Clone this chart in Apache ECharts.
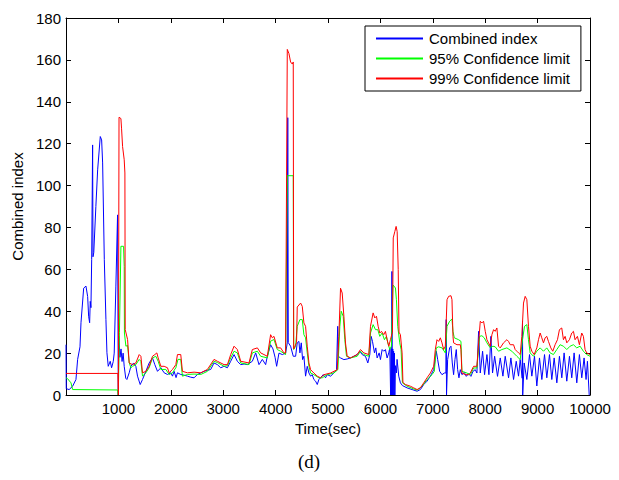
<!DOCTYPE html>
<html>
<head>
<meta charset="utf-8">
<script src="https://cdn.jsdelivr.net/npm/echarts@6/dist/echarts.min.js"></script>
<style>
html,body{margin:0;padding:0;background:#fff;}
#chart{width:619px;height:480px;}
</style>
</head>
<body>
<div id="chart"></div>
<script>
// Tick values
const xTicks = [0,1000,2000,3000,4000,5000,6000,7000,8000,9000,10000];
const yTicks = [0,20,40,60,80,100,120,140,160,180];
const seriesNames = ['Combined index','95% Confidence limit','99% Confidence limit'];

// Combined index (blue): time (sec) and value
const blueT = [0,5,60,127,190,222,267,286,337,381,413,432,451,463,476,490,508,515,530,570,604,654,680,699,731,762,781,806,844,870,902,920,952,984,998,1008,1030,1050,1070,1090,1111,1140,1162,1206,1238,1290,1333,1365,1416,1460,1524,1587,1651,1695,1746,1810,1873,1937,2000,2032,2064,2100,2127,2190,2250,2318,2380,2444,2508,2570,2635,2700,2762,2825,2889,2953,3016,3080,3143,3207,3270,3334,3400,3461,3556,3620,3683,3747,3810,3842,3905,3950,3990,4020,4064,4128,4191,4223,4232,4242,4286,4337,4382,4413,4445,4464,4490,4515,4540,4572,4604,4636,4668,4699,4731,4763,4795,4826,4858,4909,4953,4985,5049,5112,5163,5185,5195,5239,5303,5366,5430,5493,5557,5607,5652,5715,5760,5798,5823,5849,5887,5912,5938,5976,6001,6033,6064,6096,6128,6160,6179,6195,6205,6212,6220,6228,6236,6244,6252,6260,6268,6276,6287,6306,6318,6350,6382,6420,6509,6604,6700,6763,6827,6890,6954,7017,7067,7093,7131,7175,7220,7250,7256,7262,7283,7321,7347,7372,7397,7423,7448,7474,7499,7525,7556,7601,7639,7683,7728,7766,7810,7842,7874,7906,7950,7988,8033,8071,8109,8140,8180,8235,8287,8338,8382,8446,8490,8541,8592,8636,8668,8706,8712,8716,8744,8795,8846,8890,8941,8985,9036,9081,9132,9176,9227,9271,9316,9367,9417,9462,9506,9557,9608,9652,9697,9748,9798,9843,9887,9925,9951,9985];
const blueV = [24,3,2.6,4.2,7.4,17,23,34.5,51,52,47,37.6,34.5,44.7,41.7,64.6,119.4,66,68,90,107.5,123.4,121.8,110.8,64.6,36,20.2,13.7,16.1,13,16,20,52,86,0,28,18,22,16,20,13.7,8,7.4,10.6,13.7,15.3,13.7,9,5,7.4,11.3,15.3,17.7,14.5,11.3,13,10.6,9.8,10.6,9,11.3,8.3,10.6,9.8,9.5,9,8.5,8.2,9.8,10.5,11.3,11.8,12.2,15.3,14.5,13,13.7,13,16.1,19.3,16.1,14.5,14.8,14.5,16.1,20.1,14.5,17,14.5,18.5,24,22,18,13.7,20,19.3,20,24.9,132.4,25,23.3,18.5,18.5,24.9,25.6,20.1,24.9,16.9,18.5,9,13.7,10.5,9,9.7,7.4,6.6,5,7.4,8.2,9.7,8.2,9.7,9,10.5,12.1,32.8,18.5,17.7,16.9,17.2,17.7,18.5,19.3,20.9,19.3,18.5,15.3,19.3,28,25.6,20.1,22.5,17.7,20.1,16.9,21.7,20.9,21.7,17.7,20.1,22.5,0,22,0,59,0,22,0,21,0,20,0,14,10.5,17,9,5.8,4.5,3.4,2.6,1.8,2.6,5,6.6,9,12.1,20.9,16.9,11.3,9.7,10.5,10.5,36,0,16.9,22.5,23.3,15.3,9.7,16.9,21.7,12.1,8.2,12.1,9.7,10.8,8.9,10.2,8.9,11.3,12.1,10.5,30.4,10.5,20.9,9.7,19.3,9.7,28,10.5,18.5,8.9,17.7,9,18.5,8.2,17.7,7.4,16.1,9,16.9,8,35.2,0,15.3,7.4,19.3,9,18.5,4.3,17.7,7.4,19.3,8.2,19.3,7.4,17.7,5.8,18.5,8.2,20.1,6.6,18.5,8.2,20.1,5.8,19.3,8.2,17.7,7.4,16.1,0];

// 95% Confidence limit (green)
const greenT = [0,30,95,127,985,998,1020,1048,1098,1111,1115,1143,1175,1206,1238,1270,1333,1397,1429,1460,1524,1587,1651,1714,1759,1810,1905,1968,2032,2096,2137,2190,2222,2318,2444,2572,2699,2825,2889,3016,3080,3143,3207,3270,3334,3492,3556,3652,3715,3842,3905,3969,4032,4096,4191,4223,4337,4345,4382,4413,4464,4509,4540,4572,4604,4636,4668,4731,4826,4890,4985,5112,5188,5226,5252,5290,5321,5353,5430,5557,5620,5684,5779,5811,5861,5906,5950,5988,6033,6077,6115,6141,6179,6210,6240,6287,6306,6331,6369,6395,6420,6509,6636,6700,6795,6890,6985,7029,7067,7112,7175,7239,7271,7321,7366,7385,7410,7493,7537,7556,7651,7715,7779,7842,7893,7937,7982,8033,8096,8147,8191,8255,8318,8414,8509,8604,8668,8712,8750,8795,8826,8858,8922,8985,9049,9112,9175,9239,9302,9366,9429,9493,9557,9620,9684,9747,9811,9874,9937,10000];
const greenV = [8.2,7.8,5.8,2.6,2.4,0,30,71,71,61.4,29.6,23.3,23.7,15.5,13,13.7,14.5,17,16.1,9,10.6,13,17.7,18.5,16.1,12.2,12.2,9.8,10.6,13,17,17,9,9.8,10,9.8,11.3,16.1,15.5,13.7,14,17.7,20.9,20.1,15.3,14.5,20.1,20.9,18.5,17.7,25.7,26.5,21.7,20.9,19.3,104.7,104.7,21.7,23.3,32.8,36,36,28.8,27.3,20.1,13.7,10.5,9.7,8.2,8.2,9.7,10.5,12.1,32.8,40,37.6,26.4,18.5,17.7,18.5,20.9,19.3,18.5,29.6,33.6,31.2,31.2,28,29.6,26.4,28,24.9,21.7,23.3,52.5,51.1,45.5,32.8,24.9,21.7,5.8,4.2,2.9,2.3,4.2,7.4,9.7,11.3,22.5,23,22.5,20.1,32.8,35.2,36.3,30.4,27.3,26.4,25.6,11.3,10.5,9.7,12.9,12.9,28,28.3,27.3,24.9,22.5,23.3,23,20.9,21.7,22.5,20.9,18.5,16.9,26.4,32.8,33.6,26.4,20.1,18.5,20.9,22.5,20.9,22.5,20.1,19.3,21.7,24,23.3,21.7,23.3,24,22.5,23.3,20.9,19.3,18.5];

// 99% Confidence limit (red)
const redT = [0,990,1000,1012,1048,1060,1080,1111,1124,1130,1143,1175,1206,1270,1333,1397,1429,1460,1524,1587,1651,1695,1734,1759,1810,1873,1937,1968,2032,2096,2127,2190,2222,2318,2444,2572,2699,2825,2889,3016,3080,3143,3207,3270,3334,3492,3556,3652,3715,3778,3842,3905,3937,3969,4032,4096,4159,4191,4223,4255,4286,4318,4337,4345,4400,4413,4477,4509,4540,4572,4604,4636,4668,4731,4795,4858,4922,5049,5176,5207,5239,5271,5303,5334,5366,5430,5493,5557,5620,5684,5779,5811,5861,5893,5925,5957,5988,6020,6064,6096,6128,6160,6191,6230,6245,6275,6300,6320,6340,6355,6382,6414,6430,6477,6572,6636,6700,6763,6827,6890,6954,7017,7048,7080,7112,7144,7175,7207,7239,7271,7302,7347,7366,7385,7397,7461,7525,7537,7556,7620,7683,7715,7779,7842,7874,7906,7937,7969,8001,8033,8096,8128,8160,8191,8223,8255,8287,8350,8414,8445,8477,8541,8572,8604,8636,8668,8699,8731,8763,8795,8826,8858,8890,8934,8985,9017,9049,9080,9112,9144,9175,9207,9252,9290,9334,9379,9417,9461,9493,9525,9557,9607,9652,9684,9715,9760,9798,9842,9874,9906,9937,10000];
const redV = [10.3,10.3,0,132.6,132,127.4,118.6,112.3,106,31.2,31.2,26.5,15.3,14.5,15.3,19.3,18.5,10.6,11.3,13.7,18.5,19.3,20.1,17.7,13.7,13.7,13,10.6,12.2,14.5,19.3,19.3,11.3,10.6,10.9,10.6,12.2,17,16.1,14.5,14.5,19.3,23.3,21.7,16.1,15.3,21.7,22.5,20.1,19.3,18.5,28.8,27.3,28,22.5,22.5,20.1,20.1,165,163,159,158,159,22,25,42,43.9,42.3,34.4,32.8,23.3,15.3,12.1,10.5,9,8.2,9.7,10.5,12.1,28,51,48.7,37.6,24.8,18.5,17.7,18.5,19.3,21.7,20.1,19.3,32.8,39.2,36.8,37.6,32.8,29.6,30.4,28.8,30.4,26.4,23.3,26.4,30,75,78,80.5,78,60,30,28.8,20.1,6,5,4.2,3.4,2.6,3.4,5.8,8.2,10.5,13.7,21.7,26.4,25.6,27.3,24.9,21.7,23.3,45.5,47.1,47.4,45.5,28,24.9,24,24,21.7,10.5,9.7,9.7,10.5,13.7,13.7,24.9,35.2,34.4,35.2,30.4,26.4,23.3,28.8,31.2,30.4,32,23.3,22.5,24.9,26.4,25.6,24,24,21.7,20.9,20.1,19.3,28,43.9,47.1,45.5,32.8,23.3,20.9,19.3,22.5,26.4,29.6,27.3,24.9,27.3,28,25.6,22.5,20.9,24,26.4,31.2,32,26.4,28,24.9,26.4,29.6,30.4,26.4,28,24,29.6,28,21.7,20.1,19.3];

function zip(t, v) { return t.map((x, i) => [x, v[i]]); }

const FONT = '"Liberation Sans", Arial, Helvetica, sans-serif';
const chart = echarts.init(document.getElementById('chart'), null, {renderer: 'svg'});

const axisCommon = {
  type: 'value',
  axisLine: {show: true, onZero: false, lineStyle: {color: '#000', width: 1}},
  axisTick: {show: true, inside: true, length: 5, lineStyle: {color: '#000', width: 1}},
  splitLine: {show: false}
};

chart.setOption({
  animation: false,
  backgroundColor: '#fff',
  grid: {left: 66, right: 29, top: 18, bottom: 85, containLabel: false},
  legend: {
    orient: 'vertical',
    left: 365,
    top: 26,
    data: seriesNames,
    icon: 'rect',
    backgroundColor: '#fff',
    borderColor: '#000',
    borderWidth: 1,
    borderRadius: 0,
    padding: [5, 11, 5, 11],
    itemWidth: 47,
    itemHeight: 2,
    itemGap: 5,
    selectedMode: false,
    textStyle: {fontFamily: FONT, fontSize: 15, color: '#000', padding: [0, 0, 0, 1]}
  },
  xAxis: [
    Object.assign({}, axisCommon, {
      min: xTicks[0], max: xTicks[xTicks.length - 1], interval: 1000, position: 'bottom',
      axisLabel: {color: '#000', fontFamily: FONT, fontSize: 15, margin: 6,
        formatter: v => (v === 0 ? '' : String(v))},
      name: 'Time(sec)', nameLocation: 'middle', nameGap: 19,
      nameTextStyle: {color: '#000', fontFamily: FONT, fontSize: 15}
    }),
    Object.assign({}, axisCommon, {
      min: xTicks[0], max: xTicks[xTicks.length - 1], interval: 1000, position: 'top',
      axisLabel: {show: false}
    })
  ],
  yAxis: [
    Object.assign({}, axisCommon, {
      min: yTicks[0], max: yTicks[yTicks.length - 1], interval: 20, position: 'left',
      axisLabel: {color: '#000', fontFamily: FONT, fontSize: 15, margin: 5},
      name: 'Combined index', nameLocation: 'middle', nameGap: 41,
      nameTextStyle: {color: '#000', fontFamily: FONT, fontSize: 15}
    }),
    Object.assign({}, axisCommon, {
      min: yTicks[0], max: yTicks[yTicks.length - 1], interval: 20, position: 'right',
      axisLabel: {show: false}
    })
  ],
  graphic: [{
    type: 'text', left: 298, top: 452,
    style: {text: '(d)', font: '19px "Liberation Serif", "Times New Roman", serif', fill: '#000'}
  }],
  series: [
    {name: seriesNames[0], type: 'line', data: zip(blueT, blueV), symbol: 'none', color: '#0000ff',
      lineStyle: {color: '#0000ff', width: 1}, silent: true},
    {name: seriesNames[1], type: 'line', data: zip(greenT, greenV), symbol: 'none', color: '#00ff00',
      lineStyle: {color: '#00ff00', width: 1}, silent: true},
    {name: seriesNames[2], type: 'line', data: zip(redT, redV), symbol: 'none', color: '#ff0000',
      lineStyle: {color: '#ff0000', width: 1}, silent: true}
  ]
});
</script>
</body>
</html>
